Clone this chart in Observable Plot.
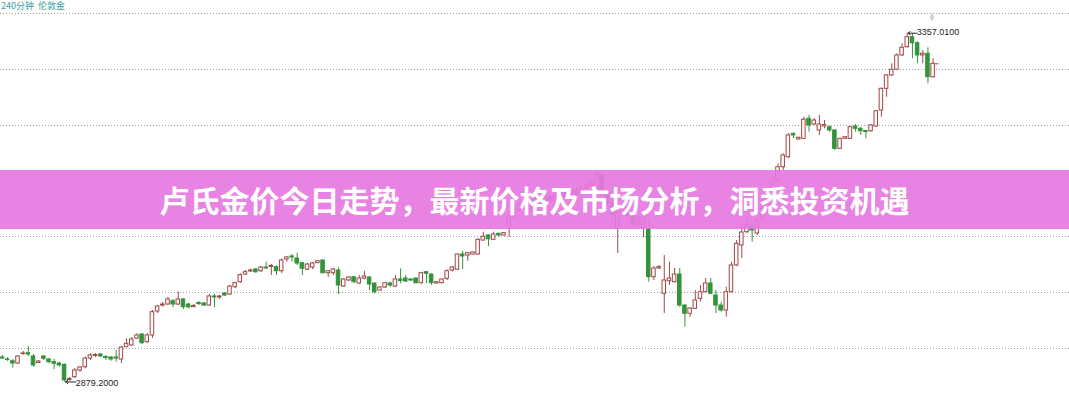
<!DOCTYPE html>
<html>
<head>
<meta charset="utf-8">
<script src="https://cdn.jsdelivr.net/npm/d3@7"></script>
<script src="https://cdn.jsdelivr.net/npm/@observablehq/plot@0.6"></script>
<style>
  html, body { margin: 0; padding: 0; background: #fff; }
  #wrap { position: relative; width: 1069px; height: 400px; overflow: hidden; }
  #hdr { position: absolute; left: 1px; top: 0px; font: 9px "Noto Sans CJK SC", sans-serif; color: #3c9fa4; line-height: 12px; white-space: pre; }
  #banner { position: absolute; left: 0; top: 170px; width: 1069px; height: 59px; background: rgba(230,120,225,0.92);
            color: #fff; font: 700 30px "Noto Sans CJK SC", sans-serif; text-align: center; line-height: 59px; letter-spacing: 0px; }
</style>
</head>
<body>
<div id="wrap">
  <div id="chart"></div>
  <div id="hdr">240分钟  伦敦金</div>
  <div id="banner">卢氏金价今日走势，最新价格及市场分析，洞悉投资机遇</div>
</div>
<script>
const opens = [2912.7,2910.0,2907.6,2904.5,2917.5,2918.6,2914.1,2905.2,2914.1,2910.0,
2906.3,2904.5,2902.7,2881.9,2885.7,2894.9,2899.4,2911.3,2914.8,2916.8,
2913.4,2912.7,2912.7,2910.0,2926.8,2929.2,2938.7,2944.2,2933.7,2942.9,
2975.7,2983.9,2985.3,2989.8,2985.3,2992.2,2985.3,2981.6,2987.4,2986.7,
2983.9,2996.3,2994.9,3000.4,2999.0,3009.0,3015.9,3026.4,3030.6,3033.3,
3030.9,3036.0,3036.7,3036.5,3030.9,3047.0,3051.1,3048.3,3041.9,3033.0,
3036.0,3041.9,3045.6,3028.2,3028.2,3031.9,3009.9,3018.2,3022.7,3014.1,
3020.9,3022.3,3014.1,3004.5,3008.6,3014.1,3009.9,3019.6,3020.9,3019.6,
3020.9,3014.5,3029.6,3026.4,3014.1,3014.5,3020.5,3031.9,3033.0,3053.8,
3052.4,3053.8,3053.8,3073.0,3079.9,3073.9,3082.2,3079.9,3089.0,3105.9,
3114.1,3120.9,3116.8,3127.8,3130.5,3123.7,3131.9,3127.8,3134.6,3138.8,
3131.9,3141.5,3137.4,3144.2,3148.3,3145.6,3162.1,3138.8,3123.7,3089.4,
3110.0,3116.8,3107.2,3096.3,3089.4,3089.4,3022.7,3034.7,3000.0,3017.2,
3015.9,3026.4,2983.9,2972.6,2979.4,2993.1,3002.2,3014.1,2997.6,2983.9,
2977.1,3002.2,3038.8,3066.2,3084.4,3091.2,3082.6,3103.1,3116.8,3141.5,
3155.2,3173.4,3187.1,3219.2,3211.4,3212.3,3239.7,3231.9,3223.7,3229.2,
3228.2,3223.7,3198.6,3212.3,3212.3,3229.2,3226.0,3223.0,3222.7,3229.2,
3251.1,3280.8,3299.1,3306.9,3326.5,3337.8,3351.5,3343.3,3326.5,3328.8,
3296.7];
const closes = [2911.3,2909.3,2904.5,2914.1,2918.2,2916.8,2901.8,2907.2,2910.9,2906.3,
2904.1,2901.8,2881.2,2883.3,2894.9,2899.0,2911.3,2915.5,2916.1,2914.1,
2912.0,2910.0,2911.3,2926.4,2931.5,2937.4,2942.9,2932.3,2942.9,2974.8,
2982.6,2985.3,2992.2,2985.3,2992.2,2981.6,2981.6,2983.3,2986.0,2983.9,
2996.3,2994.9,2996.3,2997.6,3009.9,3014.5,3025.5,3029.6,3031.9,3029.6,
3036.0,3034.7,3038.1,3030.9,3045.6,3049.7,3049.7,3041.5,3034.2,3040.1,
3041.5,3044.6,3028.2,3030.9,3033.3,3011.3,3019.6,3022.3,3015.9,3020.9,
3023.7,3012.7,3002.2,3008.6,3014.5,3011.3,3019.6,3017.5,3016.8,3018.2,
3014.5,3028.2,3027.4,3014.5,3015.9,3019.6,3030.9,3036.0,3053.8,3051.1,
3055.6,3056.6,3073.9,3078.1,3074.6,3081.2,3079.9,3083.0,3105.9,3114.1,
3120.9,3116.8,3127.8,3130.5,3123.7,3131.9,3127.8,3134.6,3138.8,3131.9,
3141.5,3137.4,3144.2,3148.3,3151.1,3164.8,3138.8,3123.7,3108.6,3110.0,
3116.8,3107.2,3094.9,3103.1,3104.5,3022.7,3034.7,3036.5,3018.2,3020.9,
3026.4,2983.9,2972.6,2979.8,2990.8,3002.2,3014.1,3000.0,2983.9,2977.1,
3002.2,3038.8,3068.5,3084.0,3093.5,3086.7,3100.4,3116.8,3134.6,3157.9,
3173.4,3189.5,3216.9,3216.9,3213.7,3238.4,3230.6,3237.4,3231.9,3231.2,
3223.7,3198.6,3212.3,3214.5,3228.2,3226.0,3222.7,3221.6,3230.6,3250.1,
3280.8,3299.1,3306.9,3326.5,3337.0,3351.5,3343.3,3326.5,3328.8,3296.7,
3315.1];
const highs = [2915.5,2912.7,2910.0,2915.5,2920.9,2927.8,2916.8,2908.6,2915.5,2910.9,
2910.0,2906.3,2903.8,2885.3,2897.6,2900.4,2913.1,2917.8,2918.2,2918.2,
2915.5,2914.1,2922.3,2927.8,2938.3,2940.1,2945.2,2945.6,2945.2,2977.1,
2983.9,2988.1,2994.9,2992.2,3002.2,2993.5,2987.1,2985.3,2989.4,2988.1,
2999.0,2999.0,2997.6,3001.8,3011.3,3015.9,3027.4,3031.9,3034.0,3034.7,
3037.4,3043.3,3040.1,3038.1,3047.7,3051.1,3053.8,3055.6,3042.9,3041.5,
3043.3,3045.3,3046.3,3031.9,3034.7,3035.6,3020.9,3023.7,3023.7,3025.1,
3030.9,3023.7,3014.8,3009.3,3015.5,3015.9,3025.1,3034.2,3025.1,3020.5,
3021.6,3029.2,3030.6,3027.1,3016.5,3020.5,3032.9,3037.4,3054.8,3058.3,
3056.6,3057.2,3075.3,3084.4,3080.8,3084.4,3083.0,3084.0,3108.6,3118.2,
3123.7,3123.7,3130.5,3134.6,3131.9,3134.6,3134.6,3137.4,3141.5,3141.5,
3144.2,3144.2,3147.0,3151.1,3155.2,3167.5,3166.2,3141.5,3127.8,3112.7,
3119.6,3119.6,3110.0,3105.9,3107.2,3100.4,3037.4,3038.8,3052.4,3043.3,
3034.7,3034.7,2984.6,2981.2,3004.5,3011.3,3020.9,3020.9,3004.5,2988.5,
3009.0,3043.3,3073.0,3093.5,3103.1,3096.3,3103.1,3120.9,3138.8,3160.7,
3178.1,3191.8,3219.6,3220.0,3214.8,3241.9,3244.3,3240.1,3244.3,3237.4,
3229.9,3225.1,3213.4,3215.1,3229.2,3231.9,3228.2,3223.7,3231.9,3251.1,
3281.9,3300.4,3315.1,3328.8,3342.5,3357.01,3356.2,3345.1,3333.3,3337.0,
3321.9];
const lows = [2910.0,2907.2,2898.1,2903.1,2915.5,2914.1,2899.4,2904.5,2908.6,2904.1,
2896.3,2899.4,2879.2,2880.2,2884.0,2892.6,2897.2,2908.6,2912.7,2912.7,
2908.6,2907.6,2906.3,2904.5,2926.8,2927.8,2937.4,2930.5,2931.9,2938.7,
2973.0,2981.6,2983.9,2981.2,2983.9,2978.5,2979.4,2981.2,2983.9,2982.6,
2982.6,2981.2,2992.2,2996.3,2997.6,3006.8,3014.1,3025.1,3029.2,3027.8,
3029.2,3033.3,3025.1,3025.1,3027.8,3043.3,3043.3,3038.8,3025.1,3031.9,
3033.0,3041.5,3027.4,3022.7,3025.1,2999.0,3008.6,3016.8,3014.1,3012.7,
3019.2,3004.5,3000.0,3003.8,3007.2,3009.0,3008.6,3013.7,3015.5,3016.8,
3013.7,3013.4,3013.7,3011.3,3013.7,3013.7,3018.2,3029.6,3031.9,3033.3,
3044.6,3053.1,3053.1,3072.3,3064.8,3073.0,3077.5,3079.2,3077.5,3103.1,
3111.4,3114.1,3114.1,3125.1,3119.6,3120.9,3123.7,3126.4,3131.9,3129.2,
3130.5,3133.3,3134.6,3141.5,3144.2,3142.9,3136.0,3119.6,3103.1,3055.2,
3105.9,3103.1,3090.8,3093.5,3077.1,3015.9,3018.2,3033.3,2973.0,3011.3,
3014.8,2981.6,2954.2,2967.9,2978.5,2988.5,3001.1,2999.0,2973.0,2974.8,
2967.9,3001.1,3037.4,3048.3,3082.6,3070.7,3079.9,3100.4,3114.1,3138.8,
3152.9,3168.9,3185.3,3212.3,3210.7,3211.4,3221.4,3230.6,3216.9,3226.0,
3221.4,3196.3,3197.7,3212.1,3211.4,3221.4,3216.9,3212.3,3221.6,3227.8,
3241.9,3269.3,3297.7,3305.9,3325.1,3336.7,3321.9,3315.1,3315.1,3287.7,
3295.6];
const gridLevels = [2925.0, 3001.8, 3078.5, 3153.8, 3230.6, 3307.3, 3384.0];
const highLabel = "3357.0100";
const lowLabel = "2879.2000";
const markerPrice = 3379;

const upColor = "#9e4848";
const downColor = "#34933a";

const candles = opens.map((o, k) => ({i: k + 1, o, c: closes[k], h: highs[k], l: lows[k]}));
const hiIdx = d3.maxIndex(highs) + 1, loIdx = d3.minIndex(lows) + 1;
const hiVal = d3.max(highs), loVal = d3.min(lows);
const last = candles[candles.length - 1];

const chart = Plot.plot({
  width: 1069, height: 400, margin: 0,
  x: {domain: [0.613, 207.38], axis: null},
  y: {domain: [2853.8, 3401.8], axis: null},
  color: {type: "identity"},
  style: {background: "transparent"},
  marks: [
    Plot.ruleY(gridLevels, {stroke: "#a0a0a0", strokeDasharray: "1,2", strokeWidth: 1}),
    Plot.ruleX(candles, {x: "i", y1: "l", y2: "h", stroke: d => d.c >= d.o ? upColor : downColor, strokeWidth: 1}),
    Plot.rect(candles, {x1: d => d.i - 0.34, x2: d => d.i + 0.34, y1: "o", y2: "c",
      fill: d => d.c >= d.o ? "#fffafa" : downColor,
      stroke: d => d.c >= d.o ? upColor : downColor, strokeWidth: 1}),
    Plot.ruleY([last.c], {x1: last.i + 0.45, x2: last.i + 1.15, stroke: upColor}),
    Plot.dot([markerPrice], {x: () => last.i - 0.2, y: d => d, symbol: "diamond", r: 2.6, fill: "#d4d4d4", stroke: "none"}),
    Plot.arrow([0], {x1: hiIdx + 1.75, x2: hiIdx + 0.15, y1: hiVal, y2: hiVal, stroke: "#222", strokeWidth: 1, headLength: 4, headAngle: 70}),
    Plot.text([highLabel], {x: hiIdx + 1.85, y: hiVal, text: d => d, textAnchor: "start", dy: -1.5, fontSize: 9, fill: "#222", fontFamily: "Liberation Sans, Arial, sans-serif"}),
    Plot.arrow([0], {x1: loIdx + 2.1, x2: loIdx + 0.2, y1: loVal, y2: loVal, stroke: "#222", strokeWidth: 1, headLength: 4, headAngle: 70}),
    Plot.text([lowLabel], {x: loIdx + 2.15, y: loVal, text: d => d, textAnchor: "start", dy: 1, fontSize: 9, fill: "#222", fontFamily: "Liberation Sans, Arial, sans-serif"})
  ]
});
document.getElementById("chart").appendChild(chart);
</script>
</body>
</html>
